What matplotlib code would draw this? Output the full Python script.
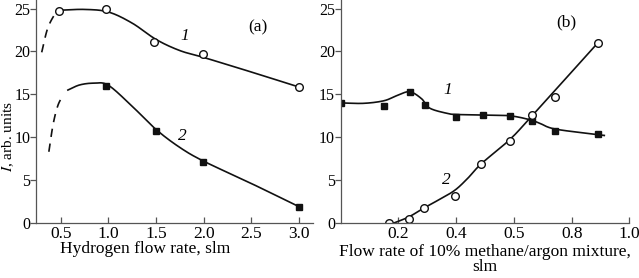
import numpy as np
import matplotlib
matplotlib.use("Agg")
import matplotlib.pyplot as plt

plt.rcParams["font.family"] = ["Liberation Serif", "DejaVu Serif"]
plt.rcParams["mathtext.fontset"] = "stix"
plt.rcParams["font.size"] = 12.5

# (a) hydrogen flow rate, slm
h_flow_1 = [0.48, 0.98, 1.48, 1.99, 3.0]
h_int_1 = [24.7, 24.9, 21.1, 19.7, 15.8]
h_flow_2 = [0.975, 1.5, 1.99, 3.0]
h_int_2 = [16.0, 10.7, 7.15, 1.9]

# hand-drawn guide curves (knots)
h_fit1_x = [0.48, 0.75, 1.0, 1.25, 1.5, 1.75, 2.0, 2.5, 3.0]
h_fit1_y = [24.8, 24.9, 24.6, 23.3, 21.4, 20.1, 19.3, 17.6, 15.85]
h_dash1_x = [0.30, 0.36, 0.43, 0.48]
h_dash1_y = [19.9, 22.6, 24.2, 24.8]
h_fit2_x = [0.575, 0.7, 0.85, 1.0, 1.25, 1.5, 1.75, 2.0, 2.5, 3.0]
h_fit2_y = [15.5, 16.1, 16.3, 16.05, 13.6, 10.9, 8.8, 7.2, 4.6, 1.9]
h_dash2_x = [0.375, 0.42, 0.47, 0.53]
h_dash2_y = [8.3, 11.5, 13.7, 15.0]

# (b) methane/argon flow rate, slm
m_flow_1 = [0.0, 0.15, 0.239, 0.291, 0.398, 0.493, 0.585, 0.662, 0.743, 0.892]
m_int_1 = [14.0, 13.6, 15.3, 13.7, 12.35, 12.6, 12.5, 11.9, 10.7, 10.4]
m_flow_2 = [0.166, 0.236, 0.289, 0.395, 0.487, 0.585, 0.663, 0.743, 0.892]
m_int_2 = [0.0, 0.5, 1.7, 3.15, 6.9, 9.6, 12.55, 14.7, 21.0]

m_fit1_x = [0.0, 0.08, 0.15, 0.195, 0.239, 0.28, 0.308, 0.366, 0.4, 0.49, 0.585, 0.654, 0.688, 0.743, 0.892, 0.913]
m_fit1_y = [14.0, 13.95, 14.25, 14.85, 15.3, 14.5, 13.4, 12.8, 12.65, 12.6, 12.5, 12.05, 11.65, 10.95, 10.3, 10.2]
m_fit2_x = [0.185, 0.236, 0.289, 0.34, 0.395, 0.44, 0.487, 0.585, 0.663, 0.892]
m_fit2_y = [0.0, 0.7, 1.75, 2.7, 3.8, 5.2, 6.9, 9.7, 12.5, 21.05]

b_ticks = [0.2, 0.4, 0.6, 0.8, 1.0]
b_tick_labels = ["0.2", "0.4", "0.5", "0.8", "1.0"]


def smooth(xs, ys, n=25):
    # Catmull-Rom through the knots
    p = np.column_stack([xs, ys]).astype(float)
    p = np.vstack([2 * p[0] - p[1], p, 2 * p[-1] - p[-2]])
    out = []
    t = np.linspace(0, 1, n)[:, None]
    for i in range(1, len(p) - 2):
        p0, p1, p2, p3 = p[i - 1], p[i], p[i + 1], p[i + 2]
        seg = 0.5 * ((2 * p1) + (-p0 + p2) * t + (2 * p0 - 5 * p1 + 4 * p2 - p3) * t ** 2
                     + (-p0 + 3 * p1 - 3 * p2 + p3) * t ** 3)
        out.append(seg if i == 1 else seg[1:])
    out = np.vstack(out)
    return out[:, 0], out[:, 1]


def style(ax):
    for s in ("top", "right"):
        ax.spines[s].set_visible(False)
    for s in ("left", "bottom"):
        ax.spines[s].set_linewidth(0.9)
        ax.spines[s].set_color("#555555")
    ax.tick_params(axis="x", direction="in", length=4, width=0.9, color="#555555", pad=2)
    ax.tick_params(axis="y", direction="out", length=4, width=0.9, color="#555555",
                   pad=0, labelsize=11.5)
    ax.set_ylim(0, 26)
    ax.set_yticks([0, 5, 10, 15, 20, 25])


fig = plt.figure(figsize=(6.39, 2.78), dpi=100)
ax1 = fig.add_axes([0.0563, 0.198, 0.434, 0.802])
ax2 = fig.add_axes([0.533, 0.198, 0.452, 0.802])
lw = 1.2
k = "#111111"

style(ax1)
ax1.plot(*smooth(h_fit1_x, h_fit1_y), color=k, lw=lw)
ax1.plot(*smooth(h_dash1_x, h_dash1_y), color=k, lw=lw, dashes=(5, 4))
ax1.plot(*smooth(h_fit2_x, h_fit2_y), color=k, lw=lw)
ax1.plot(*smooth(h_dash2_x, h_dash2_y), color=k, lw=lw, dashes=(5, 4))
ax1.plot(h_flow_1, h_int_1, "o", ms=5.5, mfc="white", mec=k, mew=1.0)
ax1.plot(h_flow_2, h_int_2, "s", ms=5, mfc=k, mec=k)
ax1.set_xlim(0.24, 3.15)
ax1.set_xticks([0.5, 1.0, 1.5, 2.0, 2.5, 3.0])
ax1.set_xticklabels(["0.5", "1.0", "1.5", "2.0", "2.5", "3.0"])
ax1.set_xlabel("Hydrogen flow rate, slm")
ax1.xaxis.set_label_coords(0.393, -0.082)
ax1.set_ylabel("$I$, arb. units", fontsize=11)
ax1.yaxis.set_label_coords(-0.073, 0.39)
ax1.text(1.8, 21.8, "1", style="italic", ha="center", va="center")
ax1.text(1.78, 10.1, "2", style="italic", ha="center", va="center")
ax1.text(2.57, 22.8, "(a)", ha="center", va="center")

style(ax2)
ax2.plot(*smooth(m_fit1_x, m_fit1_y), color=k, lw=lw)
ax2.plot(*smooth(m_fit2_x, m_fit2_y), color=k, lw=lw)
ax2.plot(m_flow_1, m_int_1, "s", ms=5, mfc=k, mec=k)
ax2.plot(m_flow_2, m_int_2, "o", ms=5.5, mfc="white", mec=k, mew=1.0)
ax2.set_xlim(0, 1.0)
ax2.set_xticks(b_ticks)
ax2.set_xticklabels(b_tick_labels)
ax2.set_xlabel("Flow rate of 10% methane/argon mixture,\nslm", labelpad=1.5, linespacing=0.9)
ax2.text(0.37, 15.5, "1", style="italic", ha="center", va="center")
ax2.text(0.366, 5.0, "2", style="italic", ha="center", va="center")
ax2.text(0.78, 23.4, "(b)", ha="center", va="center")

fig.savefig("out.png", dpi=100)
